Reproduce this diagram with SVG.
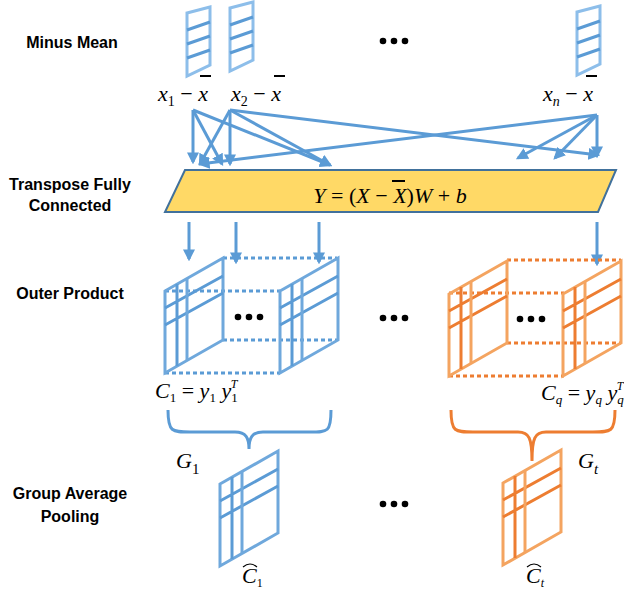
<svg xmlns="http://www.w3.org/2000/svg" width="624" height="590" viewBox="0 0 624 590">
<style>
.lbl{font-family:"Liberation Sans",Arial,sans-serif;font-weight:bold;font-size:16px;fill:#000;text-anchor:middle}
.m{font-family:"Liberation Serif","Times New Roman",serif;font-style:italic;font-size:22px;fill:#000}
.conn{stroke:#5B9BD5;stroke-width:3;fill:none;marker-end:url(#ah)}
.bl{stroke:#6FA8DC;stroke-width:3;fill:none}
.bd{stroke:#5B9BD5;stroke-width:3;fill:none}
.ol{stroke:#F4A460;stroke-width:3;fill:none}
.od{stroke:#ED7D31;stroke-width:3;fill:none}
.dashb{stroke:#5B9BD5;stroke-width:3;stroke-dasharray:4 3;fill:none}
.dasho{stroke:#ED7D31;stroke-width:3;stroke-dasharray:4 3;fill:none}
.bar{stroke:#000;stroke-width:2}
</style>
<defs>
<marker id="ah" viewBox="0 0 10 10" refX="8" refY="5" markerWidth="4" markerHeight="4" orient="auto"><path d="M0,0L10,5L0,10Z" fill="#5B9BD5"/></marker>
<g id="vec"><path d="M0,6L23,0L23,58L0,69Z" stroke="#8DBEEA" stroke-width="3" fill="none"/><path d="M0,23L23,15M0,37L23,29M0,51L23,43" stroke="#5B9BD5" stroke-width="3"/></g>
<g id="faceB"><path d="M0,33L58,0L58,82L0,115Z" class="bl"/><path d="M12,26V108M0,50L58,18M0,67L58,35" class="bd"/><path d="M22,20V102" class="bl"/></g>
<g id="faceO"><path d="M0,33L58,0L58,82L0,115Z" class="ol"/><path d="M12,26V108M0,50L58,18M0,67L58,35" class="od"/><path d="M22,20V102" class="ol"/></g>
</defs>
<g id="labels">
<text class="lbl" x="72" y="48">Minus Mean</text>
<text class="lbl" x="70" y="190">Transpose Fully</text>
<text class="lbl" x="70" y="211">Connected</text>
<text class="lbl" x="70" y="299">Outer Product</text>
<text class="lbl" x="70" y="499">Group Average</text>
<text class="lbl" x="70" y="522">Pooling</text>
</g>
<g id="x1"><use href="#vec" x="187" y="7"/><text class="m" x="158" y="101">x<tspan font-size="14" dy="5" font-style="normal">1</tspan><tspan dy="-5" font-style="normal"> − </tspan>x</text><path class="bar" d="M200,76h11"/></g>
<g id="x2"><use href="#vec" x="230" y="2"/><text class="m" x="231" y="101">x<tspan font-size="14" dy="5" font-style="normal">2</tspan><tspan dy="-5" font-style="normal"> − </tspan>x</text><path class="bar" d="M274,76h11"/></g>
<g id="xn"><use href="#vec" x="577" y="6"/><text class="m" x="543" y="101">x<tspan font-size="14" dy="5">n</tspan><tspan dy="-5" font-style="normal"> − </tspan>x</text><path class="bar" d="M586,76h11"/></g>
<g id="dots" fill="#000">
<circle cx="383" cy="41" r="3.3"/><circle cx="394" cy="41" r="3.3"/><circle cx="405" cy="41" r="3.3"/>
<circle cx="383" cy="318" r="3.3"/><circle cx="394" cy="318" r="3.3"/><circle cx="405" cy="318" r="3.3"/>
<circle cx="383" cy="504" r="3.3"/><circle cx="394" cy="504" r="3.3"/><circle cx="405" cy="504" r="3.3"/>
</g>
<g id="connectors">
<path class="conn" d="M193,110V162"/>
<path class="conn" d="M193,110L222,164"/>
<path class="conn" d="M193,110L330,165"/>
<path class="conn" d="M230,110L200,164"/>
<path class="conn" d="M230,110V164"/>
<path class="conn" d="M230,110L330,165"/>
<path class="conn" d="M230,110L598,155"/>
<path class="conn" d="M597,115V156"/>
<path class="conn" d="M597,115L555,158"/>
<path class="conn" d="M597,115L518,158"/>
<path class="conn" d="M597,115L200,164"/>
<path class="conn" d="M189,222V259"/>
<path class="conn" d="M236,222V262"/>
<path class="conn" d="M319,222V262"/>
<path class="conn" d="M597,222V264"/>
</g>
<g id="fc"><path d="M185,170L616,170L598,212L165,212Z" fill="#FFD966" stroke="#41719C" stroke-width="2"/>
<text class="m" x="390" y="203" text-anchor="middle" font-size="20">Y <tspan font-style="normal">= (</tspan>X <tspan font-style="normal">− </tspan>X<tspan font-style="normal">)</tspan>W <tspan font-style="normal">+ </tspan>b</text>
<path class="bar" d="M392,181h13"/></g>
<g id="cube1">
<path class="dashb" d="M223,258H337M165,291H280M223,340H337M165,373H280"/>
<use href="#faceB" x="165" y="258"/><use href="#faceB" x="280" y="258"/>
<circle cx="238" cy="317" r="3.3"/><circle cx="249" cy="317" r="3.3"/><circle cx="260" cy="317" r="3.3"/>
<text class="m" x="155" y="398" font-size="21">C<tspan font-size="13" dy="4" font-style="normal">1</tspan><tspan dy="-4" font-style="normal"> = </tspan>y<tspan font-size="13" dy="4" font-style="normal">1</tspan><tspan dy="-4"> y</tspan><tspan font-size="13" dy="4" font-style="normal">1</tspan><tspan font-size="12" dx="-7" dy="-14">T</tspan></text>
</g>
<g id="cubeq">
<path class="dasho" d="M507,260H621M449,293H564M507,343H621M449,376H564"/>
<use href="#faceO" x="449" y="261"/><use href="#faceO" x="563" y="261"/>
<circle cx="520" cy="319" r="3.3"/><circle cx="531" cy="319" r="3.3"/><circle cx="542" cy="319" r="3.3"/>
<text class="m" x="541" y="400" font-size="21">C<tspan font-size="13" dy="4">q</tspan><tspan dy="-4" font-style="normal"> = </tspan>y<tspan font-size="13" dy="4">q</tspan><tspan dy="-4"> y</tspan><tspan font-size="13" dy="4">q</tspan><tspan font-size="12" dx="-7" dy="-14">T</tspan></text>
</g>
<g id="g1">
<path d="M168,410C168,432 172,432 190,432H235C246,432 249,438 249,449C249,438 252,432 263,432H310C328,432 331,432 331,410" class="bd"/>
<text class="m" x="176" y="468" font-size="25">G<tspan font-size="15" dy="6" font-style="normal">1</tspan></text>
<use href="#faceB" x="220" y="451"/>
<text class="m" x="242" y="583" font-size="20">C<tspan font-size="12" dy="4" font-style="normal">1</tspan></text><path d="M243,567Q250,561 257,567" stroke="#000" stroke-width="1.2" fill="none"/>
</g>
<g id="gt">
<path d="M451,410C451,432 455,432 473,432H518C529,432 532,438 532,461C532,438 535,432 546,432H593C611,432 615,432 615,410" class="od"/>
<text class="m" x="578" y="468" font-size="25">G<tspan font-size="15" dy="6">t</tspan></text>
<use href="#faceO" x="503" y="450"/>
<text class="m" x="526" y="583" font-size="20">C<tspan font-size="12" dy="4">t</tspan></text><path d="M527,567Q534,561 541,567" stroke="#000" stroke-width="1.2" fill="none"/>
</g>
</svg>
